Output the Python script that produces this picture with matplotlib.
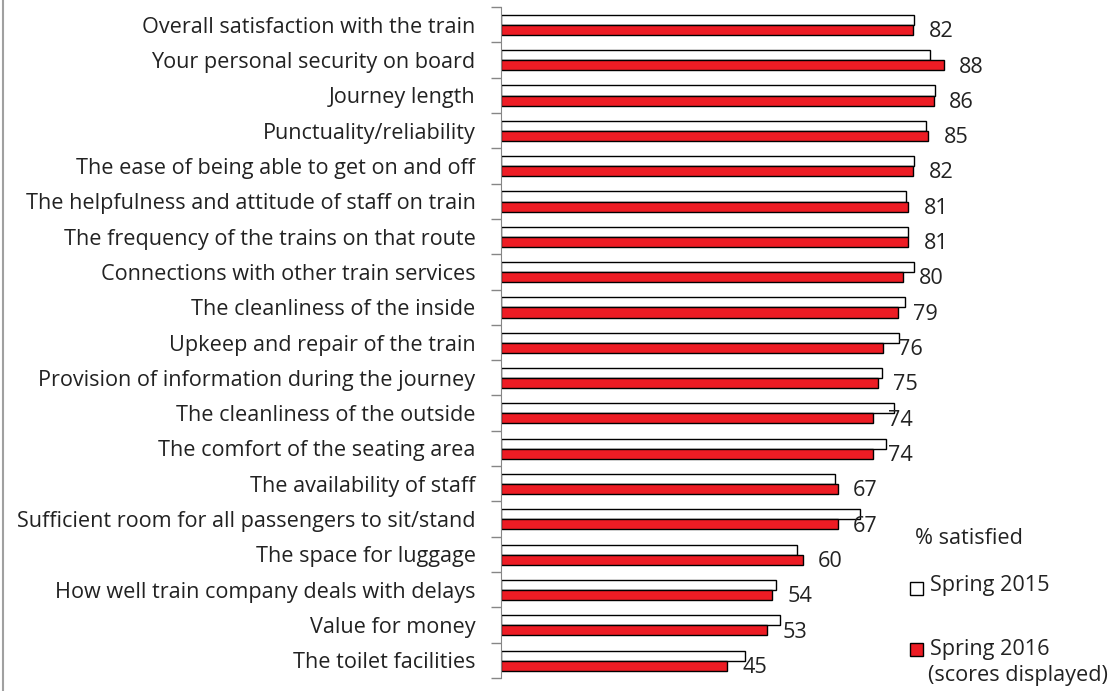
import matplotlib.pyplot as plt
import matplotlib.patches as mpatches
import numpy as np

plt.rcParams['font.family'] = ['Open Sans', 'DejaVu Sans']

categories = [
    "Overall satisfaction with the train",
    "Your personal security on board",
    "Journey length",
    "Punctuality/reliability",
    "The ease of being able to get on and off",
    "The helpfulness and attitude of staff on train",
    "The frequency of the trains on that route",
    "Connections with other train services",
    "The cleanliness of the inside",
    "Upkeep and repair of the train",
    "Provision of information during the journey",
    "The cleanliness of the outside",
    "The comfort of the seating area",
    "The availability of staff",
    "Sufficient room for all passengers to sit/stand",
    "The space for luggage",
    "How well train company deals with delays",
    "Value for money",
    "The toilet facilities",
]
spring_2015 = [82.2, 85.4, 86.3, 84.6, 82.2, 80.5, 81.0, 82.2, 80.3, 79.1,
               75.8, 78.1, 76.5, 66.4, 71.4, 58.9, 54.8, 55.5, 48.6]
spring_2016 = [82, 88, 86, 85, 82, 81, 81, 80, 79, 76, 75, 74, 74, 67, 67, 60, 54, 53, 45]

W, H = 1118, 691
fs = 15.6
fig = plt.figure(figsize=(W / 100, H / 100), dpi=100)
ax = fig.add_axes([500.5 / W, 1 - 678 / H, (1004 - 500.5) / W, (678 - 7) / H])

y = np.arange(len(categories))
bh = 0.285
ax.barh(y - 0.135, spring_2015, height=bh, color="white", edgecolor="black", linewidth=1)
ax.barh(y + 0.15, spring_2016, height=bh, color="#ED1C24", edgecolor="black", linewidth=1)

for i, v in enumerate(spring_2016):
    ax.text(v + 3, i + 0.2, str(v), ha="left", va="center", fontsize=fs, color="#222222")

ax.set_xlim(0, 100)
ax.set_ylim(len(categories) - 0.5, -0.5)
ax.set_yticks(y)
ax.set_yticklabels(categories, fontsize=fs, color="#222222")
ax.set_yticks(np.arange(len(categories) + 1) - 0.5, minor=True)
ax.tick_params(axis="y", which="major", length=0, pad=18)
ax.tick_params(axis="y", which="minor", length=7, color="#868686", width=1)
ax.set_xticks([])
for s in ["top", "right", "bottom"]:
    ax.spines[s].set_visible(False)
ax.spines["left"].set_color("#868686")

# legend block
def px(x, yy):
    return x / W, 1 - yy / H

fig.text(*px(915, 538), "% satisfied", fontsize=fs, va="center", color="#222222")
fig.patches.append(mpatches.Rectangle(px(910, 595), 13 / W, 13 / H, transform=fig.transFigure,
                                      facecolor="white", edgecolor="black", linewidth=1))
fig.text(*px(930, 586), "Spring 2015", fontsize=fs, va="center", color="#222222")
fig.patches.append(mpatches.Rectangle(px(910, 656), 13 / W, 13 / H, transform=fig.transFigure,
                                      facecolor="#ED1C24", edgecolor="black", linewidth=1))
fig.text(*px(930, 649), "Spring 2016", fontsize=fs, va="center", color="#222222")
fig.text(*px(928, 676), "(scores displayed)", fontsize=fs, va="center", color="#222222")

# chart border on the left edge
fig.add_artist(plt.Line2D([3 / W, 3 / W], [0, 1], color="#A0A0A0", linewidth=1.5))

fig.savefig("out.png", dpi=100)
